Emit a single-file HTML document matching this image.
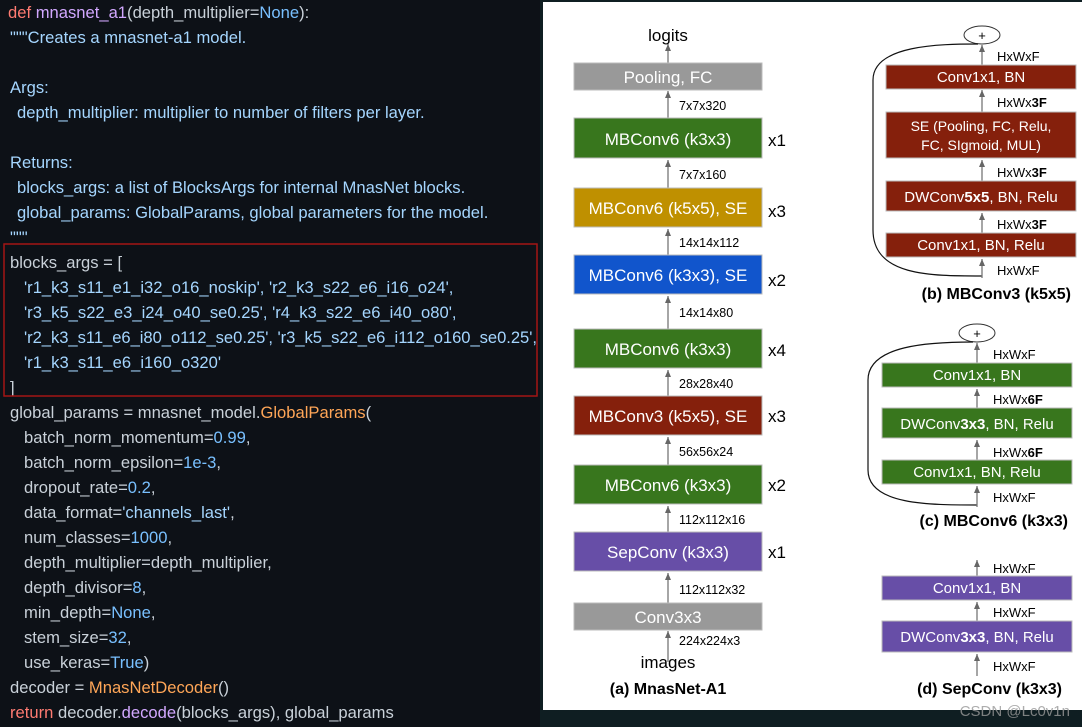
<!DOCTYPE html>
<html><head><meta charset="utf-8"><style>
html,body{margin:0;padding:0;background:#0d1117;width:1082px;height:727px;overflow:hidden}
svg{display:block}
.c{font-family:"Liberation Sans",sans-serif;font-size:16.6px;fill:#c9d1d9}
.k{fill:#ff7b72}.f{fill:#d2a8ff}.b{fill:#79c0ff}.o{fill:#ffa657}.s{fill:#a5d6ff}
.d{font-family:"Liberation Sans",sans-serif}
</style></head><body>
<svg width="1082" height="727" xmlns="http://www.w3.org/2000/svg">
<rect x="0" y="0" width="1082" height="727" fill="#0d1117"/>
<rect x="540" y="0" width="542" height="727" fill="#0f1e22"/>
<g class="c">
<text x="8" y="18"><tspan class="k">def</tspan> <tspan class="f">mnasnet_a1</tspan>(depth_multiplier=<tspan class="b">None</tspan>):</text>
<text x="10" y="43" class="s">"""Creates a mnasnet-a1 model.</text>
<text x="10" y="93" class="s">Args:</text>
<text x="17" y="118" class="s">depth_multiplier: multiplier to number of filters per layer.</text>
<text x="10" y="168" class="s">Returns:</text>
<text x="17" y="193" class="s">blocks_args: a list of BlocksArgs for internal MnasNet blocks.</text>
<text x="17" y="218" class="s">global_params: GlobalParams, global parameters for the model.</text>
<text x="10" y="243" class="s">"""</text>
<text x="10" y="268">blocks_args = [</text>
<text x="24" y="293" class="s">'r1_k3_s11_e1_i32_o16_noskip', 'r2_k3_s22_e6_i16_o24',</text>
<text x="24" y="318" class="s">'r3_k5_s22_e3_i24_o40_se0.25', 'r4_k3_s22_e6_i40_o80',</text>
<text x="24" y="343" class="s" textLength="513">'r2_k3_s11_e6_i80_o112_se0.25', 'r3_k5_s22_e6_i112_o160_se0.25',</text>
<text x="24" y="368" class="s">'r1_k3_s11_e6_i160_o320'</text>
<text x="10" y="393">]</text>
<text x="10" y="418">global_params = mnasnet_model.<tspan class="o">GlobalParams</tspan>(</text>
<text x="24" y="443">batch_norm_momentum=<tspan class="b">0.99</tspan>,</text>
<text x="24" y="468">batch_norm_epsilon=<tspan class="b">1e-3</tspan>,</text>
<text x="24" y="493">dropout_rate=<tspan class="b">0.2</tspan>,</text>
<text x="24" y="518">data_format=<tspan class="s">'channels_last'</tspan>,</text>
<text x="24" y="543">num_classes=<tspan class="b">1000</tspan>,</text>
<text x="24" y="568">depth_multiplier=depth_multiplier,</text>
<text x="24" y="593">depth_divisor=<tspan class="b">8</tspan>,</text>
<text x="24" y="618">min_depth=<tspan class="b">None</tspan>,</text>
<text x="24" y="643">stem_size=<tspan class="b">32</tspan>,</text>
<text x="24" y="668">use_keras=<tspan class="b">True</tspan>)</text>
<text x="10" y="693">decoder = <tspan class="o">MnasNetDecoder</tspan>()</text>
<text x="10" y="718"><tspan class="k">return</tspan> decoder.<tspan class="f">decode</tspan>(blocks_args), global_params</text>
</g>
<rect x="4" y="244" width="533" height="152" fill="none" stroke="#a31515" stroke-width="1.5"/>

<rect x="543" y="2" width="539" height="708" fill="#fff"/>
<defs><marker id="a" markerWidth="8" markerHeight="6" refX="7" refY="3" orient="auto" markerUnits="userSpaceOnUse"><path d="M0,0 L7,3 L0,6 Z" fill="#666"/></marker></defs>
<g class="d">
<!-- (a) -->
<g stroke="#777" stroke-width="1.3" marker-end="url(#a)">
<line x1="668" y1="662" x2="668" y2="631"/>
<line x1="668" y1="603" x2="668" y2="573"/>
<line x1="668" y1="532" x2="668" y2="506"/>
<line x1="668" y1="465" x2="668" y2="437"/>
<line x1="668" y1="396" x2="668" y2="370"/>
<line x1="668" y1="329" x2="668" y2="296"/>
<line x1="668" y1="255" x2="668" y2="229"/>
<line x1="668" y1="188" x2="668" y2="160"/>
<line x1="668" y1="118" x2="668" y2="91"/>
<line x1="668" y1="63" x2="668" y2="44"/>
</g>
<g stroke="#bbb" stroke-width="1">
<rect x="574" y="63" width="188" height="27" fill="#999"/>
<rect x="574" y="118" width="188" height="40" fill="#38761d"/>
<rect x="574" y="188" width="188" height="39" fill="#bf9000"/>
<rect x="574" y="255" width="188" height="39" fill="#1155cc"/>
<rect x="574" y="329" width="188" height="39" fill="#38761d"/>
<rect x="574" y="396" width="188" height="39" fill="#85200c"/>
<rect x="574" y="465" width="188" height="39" fill="#38761d"/>
<rect x="574" y="532" width="188" height="39" fill="#674ea7"/>
<rect x="574" y="603" width="188" height="27" fill="#999"/>
</g>
<g fill="#fff" font-size="17" text-anchor="middle">
<text x="668" y="83">Pooling, FC</text>
<text x="668" y="145">MBConv6 (k3x3)</text>
<text x="668" y="214">MBConv6 (k5x5), SE</text>
<text x="668" y="281">MBConv6 (k3x3), SE</text>
<text x="668" y="355">MBConv6 (k3x3)</text>
<text x="668" y="422">MBConv3 (k5x5), SE</text>
<text x="668" y="491">MBConv6 (k3x3)</text>
<text x="668" y="558">SepConv (k3x3)</text>
<text x="668" y="623">Conv3x3</text>
</g>
<g fill="#000" font-size="12.5">
<text x="679" y="110">7x7x320</text>
<text x="679" y="179">7x7x160</text>
<text x="679" y="247">14x14x112</text>
<text x="679" y="317">14x14x80</text>
<text x="679" y="388">28x28x40</text>
<text x="679" y="456">56x56x24</text>
<text x="679" y="524">112x112x16</text>
<text x="679" y="594">112x112x32</text>
<text x="679" y="645">224x224x3</text>
</g>
<g fill="#000" font-size="17">
<text x="768" y="146">x1</text><text x="768" y="217">x3</text><text x="768" y="286">x2</text>
<text x="768" y="356">x4</text><text x="768" y="422">x3</text><text x="768" y="491">x2</text><text x="768" y="558">x1</text>
</g>
<text x="668" y="41" font-size="17" text-anchor="middle">logits</text>
<text x="668" y="668" font-size="17" text-anchor="middle">images</text>
<text x="668" y="694" font-size="16" font-weight="bold" text-anchor="middle">(a) MnasNet-A1</text>

<!-- (b) -->
<ellipse cx="982" cy="35" rx="18" ry="9" fill="#fff" stroke="#333"/>
<text x="982" y="40" font-size="13" text-anchor="middle">+</text>
<path d="M982,276 C930,276 873,276 873,230 L873,80 C873,45 940,44 978,44" fill="none" stroke="#111" stroke-width="1.2"/>
<g stroke="#777" stroke-width="1.3" marker-end="url(#a)">
<line x1="982" y1="278" x2="982" y2="259"/>
<line x1="982" y1="233" x2="982" y2="213"/>
<line x1="982" y1="181" x2="982" y2="160"/>
<line x1="982" y1="112" x2="982" y2="90"/>
<line x1="982" y1="65" x2="982" y2="45"/>
</g>
<g stroke="#bbb" fill="#85200c">
<rect x="886" y="65" width="190" height="24"/>
<rect x="886" y="112" width="190" height="46"/>
<rect x="886" y="181" width="190" height="30"/>
<rect x="886" y="233" width="190" height="24"/>
</g>
<g fill="#fff" font-size="15" text-anchor="middle">
<text x="981" y="82">Conv1x1, BN</text>
<text x="981" y="131" font-size="14">SE (Pooling, FC, Relu,</text>
<text x="981" y="150" font-size="14">FC, SIgmoid, MUL)</text>
<text x="981" y="202">DWConv<tspan font-weight="bold">5x5</tspan>, BN, Relu</text>
<text x="981" y="250">Conv1x1, BN, Relu</text>
</g>
<g font-size="13">
<text x="997" y="61">HxWxF</text>
<text x="997" y="107">HxWx<tspan font-weight="bold">3F</tspan></text>
<text x="997" y="177">HxWx<tspan font-weight="bold">3F</tspan></text>
<text x="997" y="229">HxWx<tspan font-weight="bold">3F</tspan></text>
<text x="997" y="275">HxWxF</text>
</g>
<text x="1071" y="299" font-size="16" font-weight="bold" text-anchor="end">(b) MBConv3 (k5x5)</text>

<!-- (c) -->
<ellipse cx="977" cy="333" rx="18" ry="9" fill="#fff" stroke="#333"/>
<text x="977" y="338" font-size="13" text-anchor="middle">+</text>
<path d="M977,505 C930,505 868,505 868,470 L868,380 C868,345 930,342 973,342" fill="none" stroke="#111" stroke-width="1.2"/>
<g stroke="#777" stroke-width="1.3" marker-end="url(#a)">
<line x1="977" y1="507" x2="977" y2="486"/>
<line x1="977" y1="460" x2="977" y2="440"/>
<line x1="977" y1="408" x2="977" y2="389"/>
<line x1="977" y1="363" x2="977" y2="343"/>
</g>
<g stroke="#bbb" fill="#38761d">
<rect x="882" y="363" width="190" height="24"/>
<rect x="882" y="408" width="190" height="30"/>
<rect x="882" y="460" width="190" height="24"/>
</g>
<g fill="#fff" font-size="15" text-anchor="middle">
<text x="977" y="380">Conv1x1, BN</text>
<text x="977" y="429">DWConv<tspan font-weight="bold">3x3</tspan>, BN, Relu</text>
<text x="977" y="477">Conv1x1, BN, Relu</text>
</g>
<g font-size="13">
<text x="993" y="359">HxWxF</text>
<text x="993" y="404">HxWx<tspan font-weight="bold">6F</tspan></text>
<text x="993" y="457">HxWx<tspan font-weight="bold">6F</tspan></text>
<text x="993" y="502">HxWxF</text>
</g>
<text x="1068" y="526" font-size="16" font-weight="bold" text-anchor="end">(c) MBConv6 (k3x3)</text>

<!-- (d) -->
<g stroke="#777" stroke-width="1.3" marker-end="url(#a)">
<line x1="977" y1="676" x2="977" y2="654"/>
<line x1="977" y1="621" x2="977" y2="602"/>
<line x1="977" y1="576" x2="977" y2="560"/>
</g>
<g stroke="#bbb" fill="#674ea7">
<rect x="882" y="576" width="190" height="24"/>
<rect x="882" y="621" width="190" height="31"/>
</g>
<g fill="#fff" font-size="15" text-anchor="middle">
<text x="977" y="593">Conv1x1, BN</text>
<text x="977" y="642">DWConv<tspan font-weight="bold">3x3</tspan>, BN, Relu</text>
</g>
<g font-size="13">
<text x="993" y="573">HxWxF</text>
<text x="993" y="617">HxWxF</text>
<text x="993" y="671">HxWxF</text>
</g>
<text x="1062" y="694" font-size="16" font-weight="bold" text-anchor="end">(d) SepConv (k3x3)</text>
<text x="1070" y="716" font-size="15" fill="#999" fill-opacity="0.8" text-anchor="end">CSDN @Lc0v1n</text>
</g>
</svg>
</body></html>
